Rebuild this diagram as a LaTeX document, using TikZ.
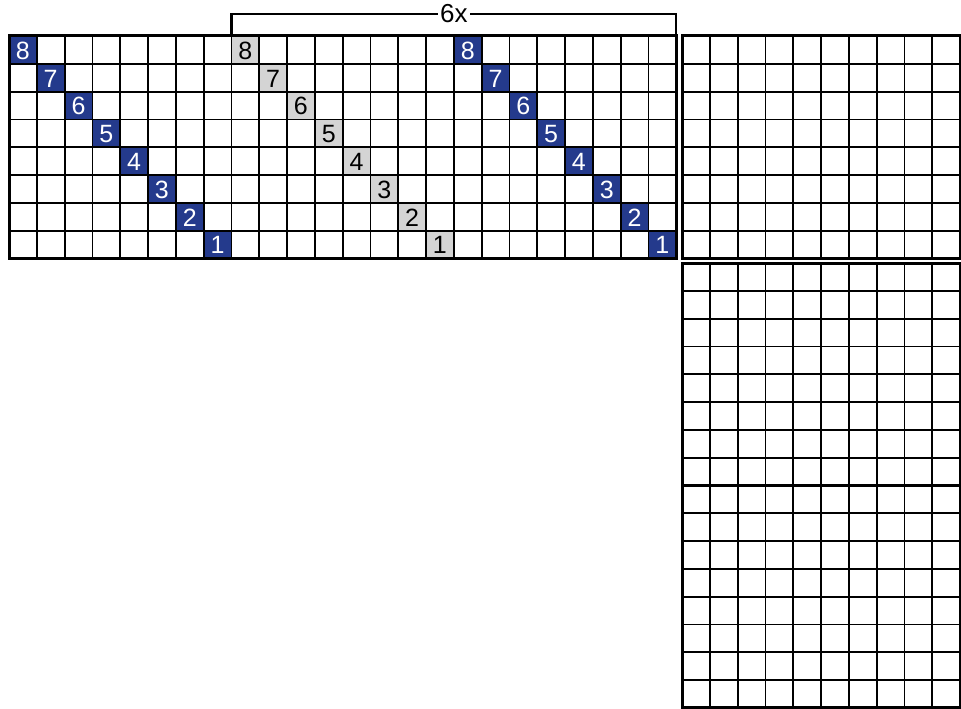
\documentclass[tikz,border=0pt]{standalone}
\usepackage{fontspec}
\setmainfont{Liberation Sans}
\definecolor{cellblue}{RGB}{36,58,140}
\definecolor{cellgray}{RGB}{212,212,212}
\begin{document}
\begin{tikzpicture}[x=1pt,y={(0pt,-1pt)},
  cellbase/.style={minimum size=27.8pt,inner sep=0pt,outer sep=0pt,font=\fontsize{25}{25}\selectfont},
  bluecell/.style={cellbase,fill=cellblue,text=white},
  graycell/.style={cellbase,fill=cellgray,text=black},
  gridl/.style={line width=1.8pt,black},
  outerl/.style={line width=3pt,black},
  bracketl/.style={line width=2.2pt,black},
  replabel/.style={fill=white,inner sep=2pt,font=\fontsize{26}{26}\selectfont}]
\useasboundingbox (0,0) rectangle (961,709);
% diagonal cells
\foreach \r in {0,...,7}{
  \pgfmathtruncatemacro{\n}{8-\r}
  \node[bluecell] (a\n) at ({9+(\r+0.5)*27.8},{36.8+(\r+0.5)*27.8}) {\n};
  \node[graycell] (b\n) at ({9+(8+\r+0.5)*27.8},{36.8+(\r+0.5)*27.8}) {\n};
  \node[bluecell] (c\n) at ({9+(16+\r+0.5)*27.8},{36.8+(\r+0.5)*27.8}) {\n};
}
% main grid
\foreach \i in {0,...,24} \draw[gridl] ({9+\i*27.8},36) -- ({9+\i*27.8},258.4);
\foreach \j in {0,...,8} \draw[gridl] (9,{36+\j*27.8}) -- (676.2,{36+\j*27.8});
\draw[outerl] (9,36) rectangle (676.2,258.4);
% right upper grid
\foreach \i in {0,...,10} \draw[gridl] ({682+\i*27.8},36) -- ({682+\i*27.8},258.4);
\foreach \j in {0,...,8} \draw[gridl] (682,{36+\j*27.8}) -- (960,{36+\j*27.8});
\draw[outerl] (682,36) rectangle (960,258.4);
% right lower grid
\foreach \i in {0,...,10} \draw[gridl] ({682+\i*27.8},263) -- ({682+\i*27.8},707.8);
\foreach \j in {0,...,16} \draw[gridl] (682,{263+\j*27.8}) -- (960,{263+\j*27.8});
\draw[outerl] (682,263) rectangle (960,707.8);
\draw[outerl] (682,485.4) -- (960,485.4);
% bracket
\coordinate (bl) at (231.4,36);
\coordinate (br) at (676.2,36);
\node[replabel] (rep) at (453.8,14) {6x};
\draw[bracketl] (bl) |- (rep.west);
\draw[bracketl] (br) |- (rep.east);
\end{tikzpicture}
\end{document}
